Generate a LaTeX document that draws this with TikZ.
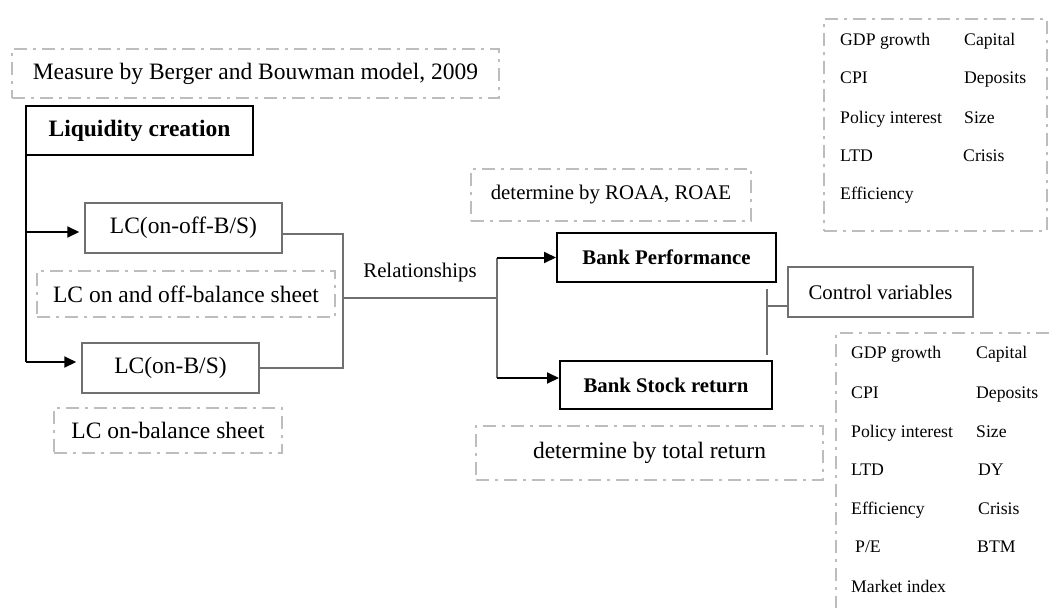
\documentclass[tikz,border=0pt]{standalone}
\usepackage{fontspec}
\setmainfont{Liberation Serif}
\usetikzlibrary{arrows.meta}
\newcommand{\fsbig}{\fontsize{23.5}{28}\selectfont}
\newcommand{\fsmid}{\fontsize{20.8}{25}\selectfont}
\newcommand{\fssmall}{\fontsize{17.7}{21}\selectfont}
\definecolor{notegray}{HTML}{BDBDBD}
\definecolor{boxgray}{HTML}{707070}
\tikzstyle{line} = [draw]
\tikzstyle{mainbox} = [draw=black, line width=2pt, inner sep=0pt]
\tikzstyle{subbox} = [draw=boxgray, line width=1.5pt, inner sep=0pt]
\tikzstyle{note} = [draw=notegray, line width=1.8pt, dash pattern=on 13pt off 6pt on 3pt off 6pt, inner sep=0pt]
\tikzstyle{link} = [draw=boxgray, line width=1.5pt]
\tikzstyle{arrow} = [draw=black, line width=2pt, -{Triangle[length=12pt,width=11pt]}]
\tikzstyle{var} = [anchor=base west, inner sep=0pt, font=\fssmall]

\begin{document}
\begin{tikzpicture}[x=1pt,y=-1pt]
\useasboundingbox (0,0) rectangle (1049,608);
%left side
\node[note, minimum width=487pt, minimum height=49pt, font=\fsbig] (measure) at (255.5,73.5) {Measure by Berger and Bouwman model, 2009};
\node[mainbox, minimum width=227pt, minimum height=49pt, font=\fsbig\bfseries] (liq) at (139.5,130.5) {Liquidity creation};
\node[subbox, minimum width=197pt, minimum height=50pt, font=\fsbig] (lcoo) at (183.5,228) {LC(on-off-B/S)};
\node[note, minimum width=298pt, minimum height=46pt, font=\fsbig] (lcoonote) at (186,294) {LC on and off-balance sheet};
\node[subbox, minimum width=177pt, minimum height=50pt, font=\fsbig] (lcon) at (170.5,368) {LC(on-B/S)};
\node[note, minimum width=228pt, minimum height=45pt, font=\fsbig] (lconnote) at (168,430.5) {LC on-balance sheet};

%middle
\node[inner sep=0pt, font=\fsmid] (rel) at (420,272) {Relationships};
\node[note, minimum width=280pt, minimum height=52pt, font=\fsmid] (roanote) at (611,195) {determine by ROAA, ROAE};
\node[mainbox, minimum width=219pt, minimum height=49pt, font=\fsmid\bfseries] (bp) at (666.5,257.5) {Bank Performance};
\node[mainbox, minimum width=212pt, minimum height=48pt, font=\fsmid\bfseries] (bs) at (666,385) {Bank Stock return};
\node[note, minimum width=347pt, minimum height=54pt, font=\fsbig] (retnote) at (649.5,453) {determine by total return};
\node[subbox, minimum width=185pt, minimum height=50pt, font=\fsmid] (ctrl) at (880.5,292) {Control variables};

%variable boxes
\node[note, minimum width=223pt, minimum height=212pt] (topvars) at (935.5,125) {};
\path [line,note] (1049,333) -- (836,333) -- (836,608);

\node[var] (tgdp) at (840,45) {GDP growth};
\node[var] (tcpi) at (840,83) {CPI};
\node[var] (tpol) at (840,123) {Policy interest};
\node[var] (tltd) at (840,161) {LTD};
\node[var] (teff) at (840,199) {Efficiency};
\node[var] (tcap) at (964,45) {Capital};
\node[var] (tdep) at (964,83) {Deposits};
\node[var] (tsize) at (964,123) {Size};
\node[var] (tcri) at (963,161) {Crisis};

\node[var] (bgdp) at (851,358) {GDP growth};
\node[var] (bcpi) at (851,398) {CPI};
\node[var] (bpol) at (851,437) {Policy interest};
\node[var] (bltd) at (851,475) {LTD};
\node[var] (beff) at (851,514) {Efficiency};
\node[var] (bpe) at (855,552) {P/E};
\node[var] (bmkt) at (851,592) {Market index};
\node[var] (bcap) at (976,358) {Capital};
\node[var] (bdep) at (976,398) {Deposits};
\node[var] (bsize) at (976,437) {Size};
\node[var] (bdy) at (978,475) {DY};
\node[var] (bcri) at (978,514) {Crisis};
\node[var] (bbtm) at (977,552) {BTM};

%connectors
\coordinate (lcjoin) at (343,298);
\coordinate (brk) at (497,298);
\coordinate (cvmid) at (767,306);
\draw[line,black,line width=2pt] ([xshift=1pt]liq.south west) -- ([xshift=1pt,yshift=6pt]liq.south west |- lcon.west);
\draw[arrow] ([xshift=1pt,yshift=-4pt]liq.south west |- lcoo.west) -- ([xshift=-5pt,yshift=-4pt]lcoo.west);
\draw[arrow] ([xshift=1pt,yshift=6pt]liq.south west |- lcon.west) -- ([xshift=-5pt,yshift=6pt]lcon.west);
\draw[link] ([yshift=-6pt]lcoo.east) -| (lcjoin);
\draw[link] (lcon.east) -| (lcjoin);
\draw[link] (lcjoin |- lcoo.east) ++(0,6) -- (lcjoin |- lcon.east);
\draw[link] (lcjoin) -- (brk);
\draw[link] (brk |- bp.west) -- ([yshift=7pt]brk |- bs.west);
\draw[arrow] (brk |- bp.west) -- (bp.west);
\draw[arrow] ([yshift=7pt]brk |- bs.west) -- ([yshift=7pt]bs.west);
\draw[link] (cvmid |- bp.south) ++(0,6) -- ([yshift=5pt]cvmid |- bs.north);
\draw[link] (cvmid) -- (cvmid -| ctrl.west);
\end{tikzpicture}
\end{document}
